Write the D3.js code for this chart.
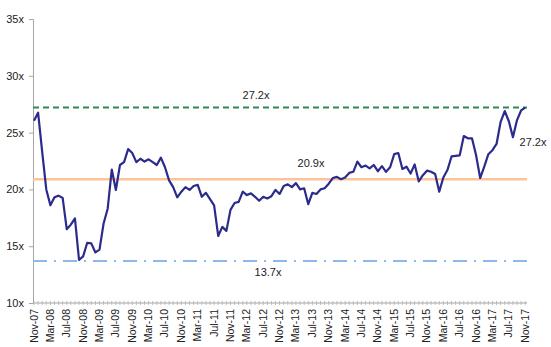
<!DOCTYPE html>
<html>
<head>
<meta charset="utf-8">
<script src="https://cdn.jsdelivr.net/npm/d3@7"></script>
<style>
  html, body { margin: 0; padding: 0; background: #fff; }
  svg { display: block; }
  text { font-family: "Liberation Sans", Arial, sans-serif; fill: #222; }
</style>
</head>
<body>
<svg id="chart" width="551" height="347"></svg>
<script>
// ---- Data ----
const monthNames = ["Jan","Feb","Mar","Apr","May","Jun","Jul","Aug","Sep","Oct","Nov","Dec"];
// monthly P/E multiples from Nov-07 to Nov-17
const peValues = [
  26.05, 26.75, 23.3, 20.0, 18.6, 19.3, 19.45, 19.25, 16.5, 16.9,
  17.45, 13.8, 14.1, 15.3, 15.25, 14.45, 14.7, 17.0, 18.3, 21.75,
  19.95, 22.15, 22.4, 23.55, 23.2, 22.4, 22.7, 22.45, 22.65, 22.4,
  22.15, 22.8, 21.95, 20.8, 20.2, 19.3, 19.8, 20.2, 19.95, 20.3,
  20.4, 19.35, 19.7, 19.15, 18.6, 15.9, 16.7, 16.35, 18.2, 18.8,
  18.9, 19.8, 19.5, 19.65, 19.35, 19.0, 19.35, 19.2, 19.4, 19.95,
  19.6, 20.3, 20.45, 20.2, 20.55, 20.0, 20.1, 18.7, 19.7, 19.6,
  20.0, 20.1, 20.5, 21.0, 21.1, 20.9, 21.05, 21.45, 21.55, 22.45,
  21.95, 22.1, 21.85, 22.15, 21.6, 22.05, 21.55, 21.95, 23.1, 23.2,
  21.8, 22.0, 21.4, 22.2, 20.7, 21.25, 21.65, 21.55, 21.35, 19.8,
  21.05, 21.7, 22.9, 22.95, 23.0, 24.7, 24.5, 24.5, 23.0, 21.0,
  22.0, 23.1, 23.45, 24.0, 25.95, 26.9, 26.0, 24.6, 26.1, 26.95,
  27.2
];
const startMonth = 10, startYear = 2007; // Nov-07
const months = peValues.map((_, i) => {
  const m = (startMonth + i) % 12;
  const y = startYear + Math.floor((startMonth + i) / 12);
  return monthNames[m] + "-" + String(y % 100).padStart(2, "0");
});
const tickLabels = months.filter((_, i) => i % 4 === 0);
const yTicks = [10, 15, 20, 25, 30, 35];
const refNames = ["max", "avg", "min"];
const refValues = [27.2, 20.9, 13.7];
const refLabels = ["27.2x", "20.9x", "13.7x"];
const lastLabel = "27.2x";

// ---- Layout ----
const svg = d3.select("#chart");
const x = d3.scalePoint().domain(months).range([34, 525.2]);
const y = d3.scaleLinear().domain([10, 35]).range([303, 19]);
const xLeft = 33, xRight = 527;

// Y axis
const yAxis = d3.axisLeft(y).tickValues(yTicks).tickFormat(d => d + "x").tickSize(4).tickPadding(5);
const gy = svg.append("g").attr("transform", `translate(${xLeft},0)`).call(yAxis);
gy.select(".domain").attr("stroke", "#a6a6a6");
gy.selectAll(".tick line").attr("stroke", "#a6a6a6");
gy.selectAll(".tick text").style("font-size", "11px").style("font-family", "Liberation Sans, Arial, sans-serif").attr("fill", "#222");

// X axis: monthly minor ticks
const gx = svg.append("g").attr("transform", `translate(0,${y(10)})`);
gx.append("line").attr("x1", xLeft).attr("x2", xRight).attr("stroke", "#a6a6a6");
gx.selectAll("line.mt").data(months).enter().append("line")
  .attr("class", "mt")
  .attr("x1", d => x(d)).attr("x2", d => x(d))
  .attr("y1", -2).attr("y2", 2)
  .attr("stroke", "#b0b0b0").attr("stroke-width", 0.8);
gx.selectAll("text").data(tickLabels).enter().append("text")
  .attr("transform", d => `translate(${x(d) + 3.5},6) rotate(-90)`)
  .attr("text-anchor", "end")
  .style("font-size", "10.5px")
  .text(d => d);

// Reference lines
const refStyle = {
  max: { stroke: "#2e8a58", width: 2, dash: "6,4" },
  avg: { stroke: "#f9c49a", width: 2.5, dash: null },
  min: { stroke: "#8cb8ea", width: 2, dash: "14,7,2,7" }
};
refNames.forEach((n, i) => {
  const s = refStyle[n];
  const l = svg.append("line")
    .attr("x1", xLeft).attr("x2", xRight)
    .attr("y1", y(refValues[i])).attr("y2", y(refValues[i]))
    .attr("stroke", s.stroke).attr("stroke-width", s.width);
  if (s.dash) l.attr("stroke-dasharray", s.dash);
});

// Reference labels
const refLabelPos = [[256, y(refValues[0]) - 9], [311, y(refValues[1]) - 12], [268, y(refValues[2]) + 15]];
refLabels.forEach((t, i) => {
  svg.append("text")
    .attr("x", refLabelPos[i][0]).attr("y", refLabelPos[i][1])
    .attr("text-anchor", "middle")
    .style("font-size", "11px")
    .text(t);
});

// Main line
const line = d3.line().x((d, i) => x(months[i])).y(d => y(d));
svg.append("path")
  .datum(peValues)
  .attr("d", line)
  .attr("fill", "none")
  .attr("stroke", "#2b2b8c")
  .attr("stroke-width", 2.2)
  .attr("stroke-linejoin", "round");

// Last value label
svg.append("text")
  .attr("x", 533).attr("y", y(peValues[peValues.length - 1]) + 38)
  .attr("text-anchor", "middle")
  .style("font-size", "11px")
  .text(lastLabel);
</script>
</body>
</html>
